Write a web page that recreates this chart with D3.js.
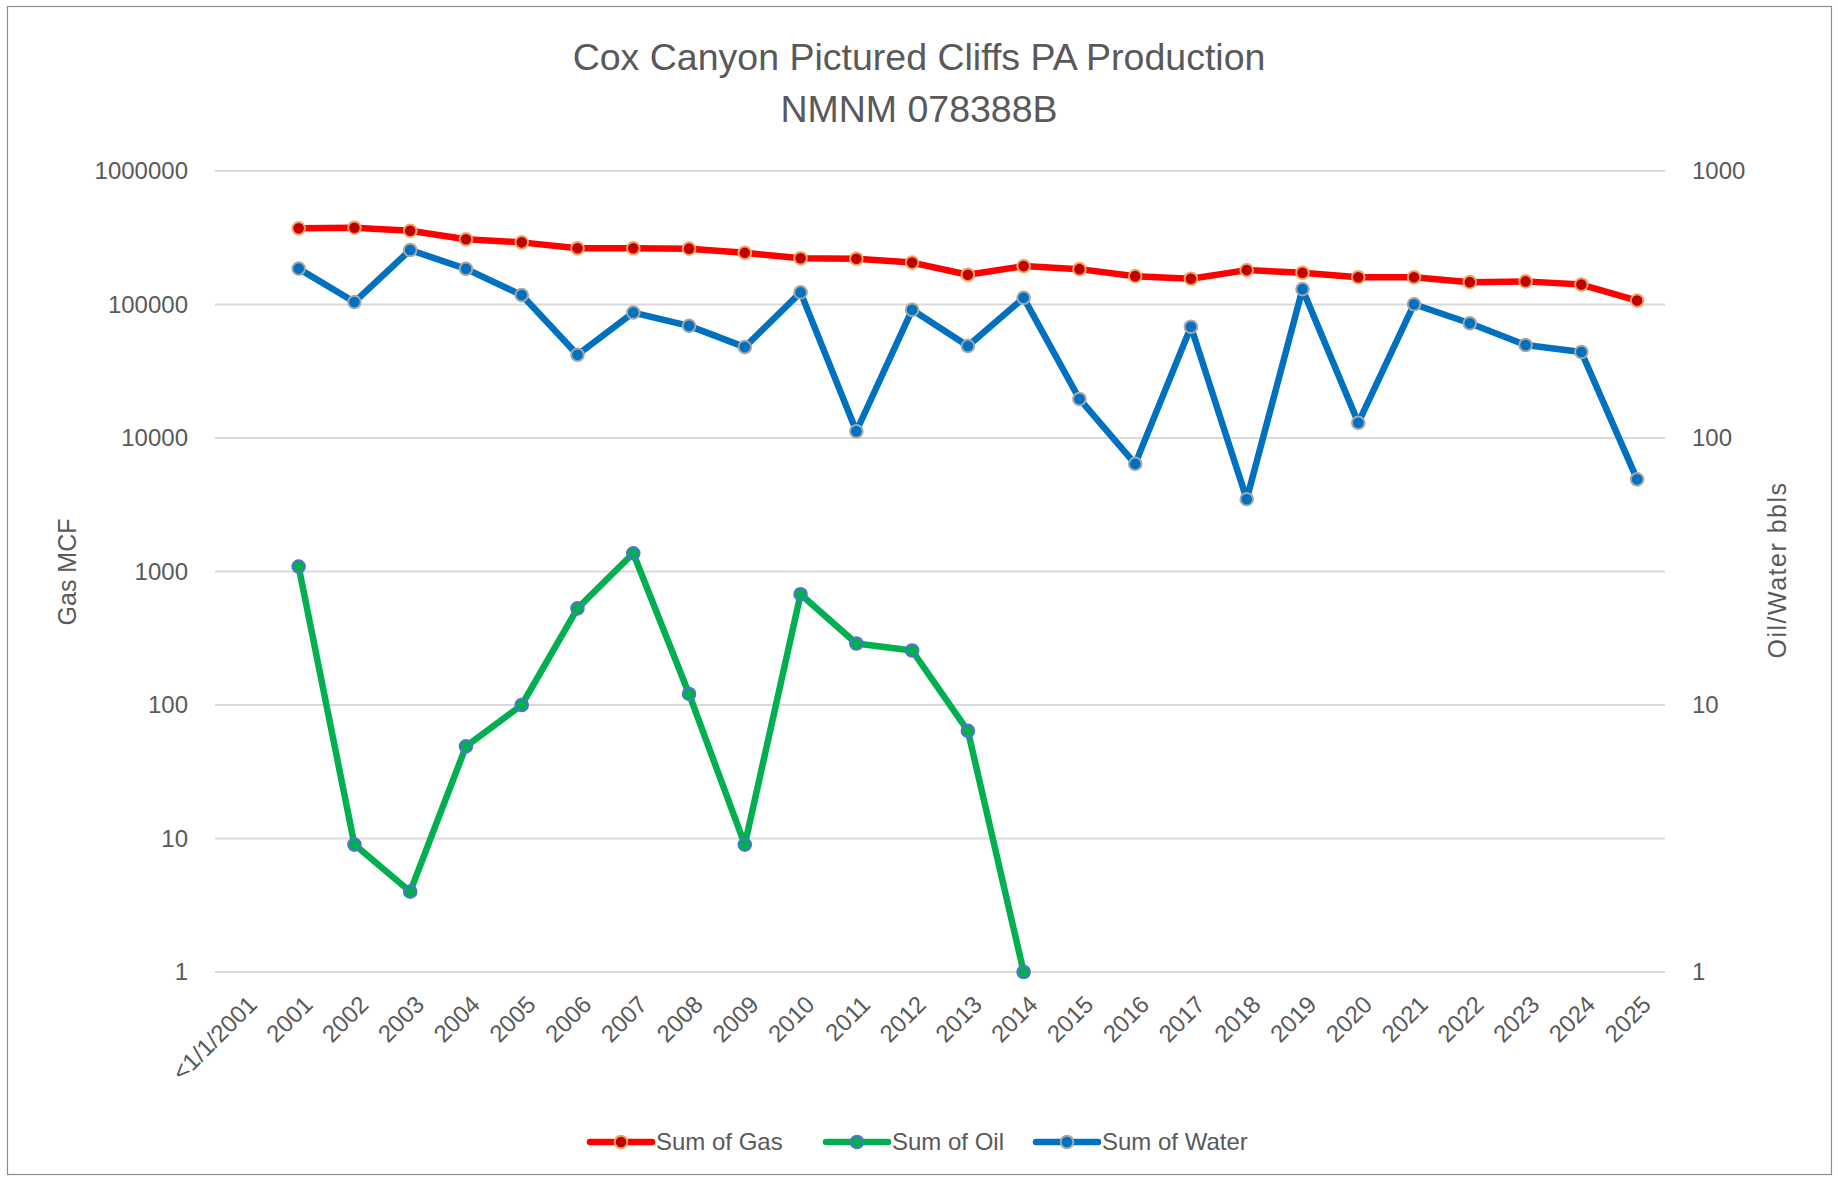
<!DOCTYPE html>
<html>
<head>
<meta charset="utf-8">
<script src="https://cdn.jsdelivr.net/npm/d3@7"></script>
<style>
  body { margin: 0; background: #fff; }
  text { font-family: "Liberation Sans", Arial, sans-serif; fill: #595959; }
</style>
</head>
<body>
<script>
// page size
var w = 1838;
var h = 1181;

// chart data, one entry per category
var categories = ["<1/1/2001", "2001", "2002", "2003", "2004", "2005", "2006", "2007", "2008",
  "2009", "2010", "2011", "2012", "2013", "2014", "2015", "2016", "2017", "2018", "2019",
  "2020", "2021", "2022", "2023", "2024", "2025"];

var gasValues = [null, 372000, 376000, 357000, 308000, 292000, 264000, 264000, 262000, 244000,
  222000, 220000, 206000, 167000, 194000, 184000, 163000, 156000, 181000, 173000, 160000,
  160000, 147000, 149000, 141000, 107000];

var oilValues = [null, 33, 3, 2, 7, 10, 23, 37, 11, 3, 26, 17, 16, 8, 1,
  null, null, null, null, null, null, null, null, null, null, null];

var waterValues = [null, 431, 323, 506, 430, 343, 205, 295, 263, 219, 351, 106, 302, 221, 335,
  140, 80, 261, 59, 361, 114, 317, 269, 223, 210, 70];

var gasTicks = [1, 10, 100, 1000, 10000, 100000, 1000000];
var bblTicks = [1, 10, 100, 1000];

// plot box (note: "top" is taken by window.top, so prefix these)
var plotLeft = 215, plotRight = 1665, plotTop = 171, plotBottom = 972;

var svg = d3.select("body")
  .append("svg")
  .attr("width", w)
  .attr("height", h);

svg.append("rect")
  .attr("x", 7.5).attr("y", 6.5)
  .attr("width", 1824).attr("height", 1168)
  .style("fill", "#fff")
  .style("stroke", "#8c8c8c")
  .style("stroke-width", 1.2);

var x = d3.scalePoint()
  .domain(categories)
  .range([plotLeft, plotRight])
  .padding(0.5);

var yGas = d3.scaleLog().domain([1, 1000000]).range([plotBottom, plotTop]);
var yBbl = d3.scaleLog().domain([1, 1000]).range([plotBottom, plotTop]);

// gridlines follow the gas axis
svg.append("g").selectAll("line")
  .data(gasTicks).enter()
  .append("line")
  .attr("x1", plotLeft).attr("x2", plotRight)
  .attr("y1", function(d) { return yGas(d); })
  .attr("y2", function(d) { return yGas(d); })
  .style("stroke", "#d9d9d9")
  .style("stroke-width", 2);

var styleAxis = function(g) {
  g.select(".domain").remove();
  g.selectAll("text")
    .style("font-size", "24px")
    .style("fill", "#595959");
};

svg.append("g")
  .attr("transform", "translate(" + plotLeft + ",0)")
  .call(d3.axisLeft(yGas).tickValues(gasTicks).tickFormat(d3.format("d")).tickSize(0).tickPadding(27))
  .call(styleAxis);

svg.append("g")
  .attr("transform", "translate(" + plotRight + ",0)")
  .call(d3.axisRight(yBbl).tickValues(bblTicks).tickFormat(d3.format("d")).tickSize(0).tickPadding(27))
  .call(styleAxis);

var xAxis = svg.append("g")
  .attr("transform", "translate(0," + plotBottom + ")")
  .call(d3.axisBottom(x).tickSize(0).tickPadding(0))
  .call(styleAxis);

xAxis.selectAll("text")
  .attr("text-anchor", "end")
  .attr("dy", "0.35em")
  .attr("transform", "translate(9,28) rotate(-45)")
  .attr("x", 0).attr("y", 0);

// axis titles
svg.append("text")
  .attr("transform", "translate(67,572) rotate(-90)")
  .attr("text-anchor", "middle")
  .attr("dy", "0.35em")
  .style("font-size", "25px")
  .text("Gas MCF");

svg.append("text")
  .attr("transform", "translate(1777,570) rotate(-90)")
  .attr("text-anchor", "middle")
  .attr("dy", "0.35em")
  .style("font-size", "25px")
  .style("letter-spacing", "1.5px")
  .text("Oil/Water bbls");

// title
svg.append("text")
  .attr("x", 919).attr("y", 57)
  .attr("text-anchor", "middle")
  .attr("dy", "0.35em")
  .style("font-size", "37.5px")
  .text("Cox Canyon Pictured Cliffs PA Production");

svg.append("text")
  .attr("x", 919).attr("y", 109)
  .attr("text-anchor", "middle")
  .attr("dy", "0.35em")
  .style("font-size", "37.5px")
  .text("NMNM 078388B");

var series = [
  { name: "Sum of Gas", values: gasValues, y: yGas, line: "#ff0000", fill: "#c00000", edge: "#f4a460" },
  { name: "Sum of Oil", values: oilValues, y: yBbl, line: "#00b050", fill: "#00b050", edge: "#4f74d0" },
  { name: "Sum of Water", values: waterValues, y: yBbl, line: "#0070c0", fill: "#0070c0", edge: "#a6a6a6" }
];

var drawSeries = function(s) {
  var pts = categories.map(function(c, i) { return { c: c, v: s.values[i] }; })
    .filter(function(d) { return d.v != null; });

  var line = d3.line()
    .x(function(d) { return x(d.c); })
    .y(function(d) { return s.y(d.v); });

  svg.append("path")
    .datum(pts)
    .attr("d", line)
    .style("fill", "none")
    .style("stroke", s.line)
    .style("stroke-width", 6.5)
    .style("stroke-linejoin", "round")
    .style("stroke-linecap", "round");

  svg.append("g").selectAll("circle")
    .data(pts).enter()
    .append("circle")
    .attr("cx", function(d) { return x(d.c); })
    .attr("cy", function(d) { return s.y(d.v); })
    .attr("r", 6.3)
    .style("fill", s.fill)
    .style("stroke", s.edge)
    .style("stroke-width", 2);
};

series.forEach(drawSeries);

// legend
var legendX = [590, 826, 1036];
var legendY = 1142;

var legend = svg.append("g").selectAll("g")
  .data(series).enter()
  .append("g")
  .attr("transform", function(d, i) { return "translate(" + legendX[i] + "," + legendY + ")"; });

legend.append("line")
  .attr("x1", 0).attr("x2", 62)
  .style("stroke", function(d) { return d.line; })
  .style("stroke-width", 6.5)
  .style("stroke-linecap", "round");

legend.append("circle")
  .attr("cx", 31).attr("r", 6.3)
  .style("fill", function(d) { return d.fill; })
  .style("stroke", function(d) { return d.edge; })
  .style("stroke-width", 2);

legend.append("text")
  .attr("x", 66)
  .attr("dy", "0.35em")
  .style("font-size", "24px")
  .text(function(d) { return d.name; });
</script>
</body>
</html>
